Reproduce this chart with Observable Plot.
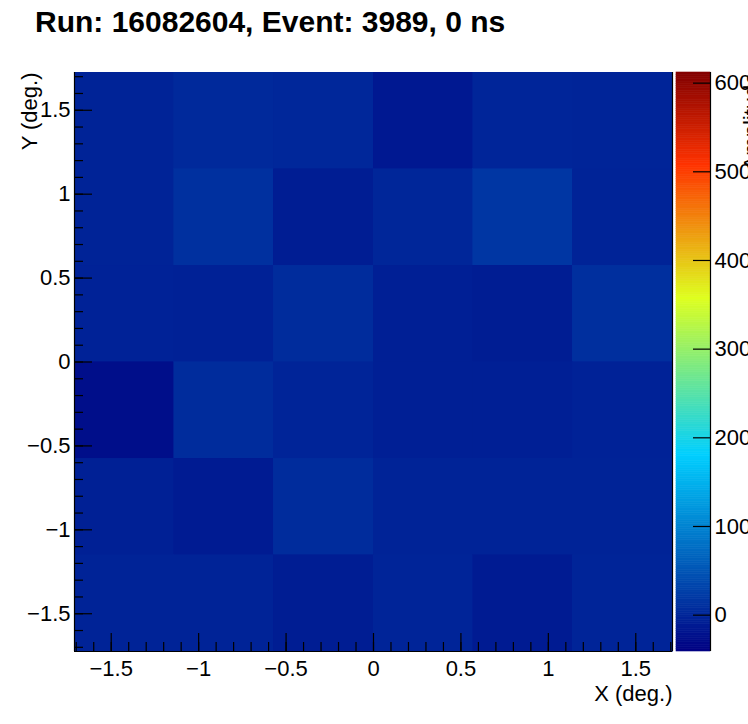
<!DOCTYPE html>
<html>
<head>
<meta charset="utf-8">
<script src="https://cdn.jsdelivr.net/npm/d3@7"></script>
<script src="https://cdn.jsdelivr.net/npm/@observablehq/plot@0.6"></script>
<style>
  body { margin: 0; background: #fff; }
  #wrap { position: relative; width: 748px; height: 724px; overflow: hidden; font-family: "Liberation Sans", Arial, sans-serif; }
  #title { position: absolute; left: 35px; top: 2px; font-size: 30px; font-weight: bold; line-height: 40px; white-space: nowrap; z-index: 2; color: #000; }
  #main, #bar { position: absolute; top: 0; }
  #main { left: 0; }
  #bar { left: 676px; }
</style>
</head>
<body>
<div id="wrap">
  <div id="title">Run: 16082604, Event: 3989, 0 ns</div>
  <div id="main"></div>
  <div id="bar"></div>
</div>
<script>
// ---- data ----
const titleText = "Run: 16082604, Event: 3989, 0 ns";
const xLabel = "X (deg.)";
const yLabel = "Y (deg.)";
const zLabel = "Amplitude";
const xBinEdges = [-1.71, -1.14, -0.57, 0, 0.57, 1.14, 1.71];
const yBinEdges = [1.725, 1.15, 0.575, 0, -0.575, -1.15, -1.725]; // top to bottom
// cell amplitudes, rows from top (y high) to bottom, columns left to right
const row1 = [-3, 3, 1, -15, -1, -2];
const row2 = [-3, 10, -10, 0, 17, -3];
const row3 = [-4, -6, 6, -8, -10, 9];
const row4 = [-26, 6, -2, -8, -8, -4];
const row5 = [-7, -12, 6, -3, -3, -3];
const row6 = [-3, -3, -10, -2, -12, -2];
const rows = [row1, row2, row3, row4, row5, row6];
const xMajorTicks = [-1.5, -1, -0.5, 0, 0.5, 1, 1.5];
const yMajorTicks = [-1.5, -1, -0.5, 0, 0.5, 1, 1.5];
const xMinorTicks = d3.range(-17, 18).map(k => k / 10);
const yMinorTicks = d3.range(-17, 18).map(k => k / 10);
const zTicks = [0, 100, 200, 300, 400, 500, 600];
const zMin = -41, zMax = 612;
const paletteStops = [0, 0.34, 0.61, 0.84, 1];
const paletteColors = ["rgb(0,0,130)", "rgb(0,207,255)", "rgb(222,255,31)", "rgb(255,51,0)", "rgb(130,0,0)"];

// ---- build ----
const cells = [];
rows.forEach((row, i) => row.forEach((v, j) => cells.push({
  x1: xBinEdges[j], x2: xBinEdges[j + 1], y1: yBinEdges[i + 1], y2: yBinEdges[i], v
})));
const colorScale = {
  type: "linear",
  domain: paletteStops.map(s => zMin + s * (zMax - zMin)),
  range: paletteColors,
  interpolate: "rgb",
  clamp: true
};
const fmt = d => d < 0 ? "\u2212" + String(-d) : String(d);
const font = "'Liberation Sans', Arial, sans-serif";
const none = () => "";

const main = Plot.plot({
  width: 748, height: 724,
  marginLeft: 74, marginRight: 76, marginTop: 72, marginBottom: 73,
  style: { fontFamily: font, fontSize: "22px", background: "transparent", color: "#000" },
  x: { domain: [xBinEdges[0], xBinEdges[6]], label: null },
  y: { domain: [yBinEdges[6], yBinEdges[0]], label: null },
  color: colorScale,
  marks: [
    Plot.rect(cells, { x1: "x1", x2: "x2", y1: "y1", y2: "y2", fill: "v", stroke: "v", strokeWidth: 0.6, inset: 0, shapeRendering: "crispEdges" }),
    Plot.ruleX([xBinEdges[0], xBinEdges[6]], { stroke: "#000", strokeWidth: 1.2 }),
    Plot.ruleY([yBinEdges[6]], { stroke: "#000", strokeWidth: 1.2 }),
    Plot.axisX(xMinorTicks, { tickSize: -9, tickFormat: none, label: null, strokeWidth: 1.2 }),
    Plot.axisX(xMajorTicks, { tickSize: -18, tickFormat: none, label: null, strokeWidth: 1.2 }),
    Plot.axisX(xMajorTicks, { tickSize: 0, tickPadding: 9, tickFormat: fmt, label: null, fontSize: 22 }),
    Plot.axisY(yMinorTicks, { tickSize: -9, tickFormat: none, label: null, strokeWidth: 1.2 }),
    Plot.axisY(yMajorTicks, { tickSize: -18, tickFormat: none, label: null, strokeWidth: 1.2 }),
    Plot.axisY(yMajorTicks, { tickSize: 0, tickPadding: 4, tickFormat: fmt, label: null, fontSize: 22 }),
    Plot.text([xLabel], { frameAnchor: "bottom-right", dy: 42, textAnchor: "end", lineAnchor: "middle", fontSize: 22 }),
    Plot.text([yLabel], { frameAnchor: "top-left", dx: -45, rotate: -90, textAnchor: "end", lineAnchor: "middle", fontSize: 22 })
  ]
});
document.getElementById("main").appendChild(main);

const nLevels = 255;
const step = (zMax - zMin) / nLevels;
const levels = d3.range(nLevels).map(i => zMin + i * step);
const bar = Plot.plot({
  width: 72, height: 724,
  marginLeft: 0, marginRight: 38, marginTop: 72, marginBottom: 73,
  style: { fontFamily: font, fontSize: "22px", background: "transparent", color: "#000", overflow: "visible" },
  x: { domain: [0, 1], axis: null },
  y: { domain: [zMin, zMax], label: null },
  color: colorScale,
  marks: [
    Plot.rect(levels, { x1: 0, x2: 1, y1: d => d, y2: d => d + step, fill: d => d + step / 2, stroke: d => d + step / 2, strokeWidth: 0.6, inset: 0 }),
    Plot.ruleX([1], { stroke: "#000", strokeWidth: 1.2 }),
    Plot.axisY(zTicks, { anchor: "right", tickSize: -18, tickFormat: none, label: null, strokeWidth: 1.2 }),
    Plot.axisY(zTicks, { anchor: "right", tickSize: 0, tickPadding: 4, tickFormat: fmt, label: null, fontSize: 22 }),
    Plot.text([zLabel], { frameAnchor: "top-right", dx: 33, rotate: -90, textAnchor: "end", lineAnchor: "top", fontSize: 22 })
  ]
});
document.getElementById("bar").appendChild(bar);
</script>
</body>
</html>
